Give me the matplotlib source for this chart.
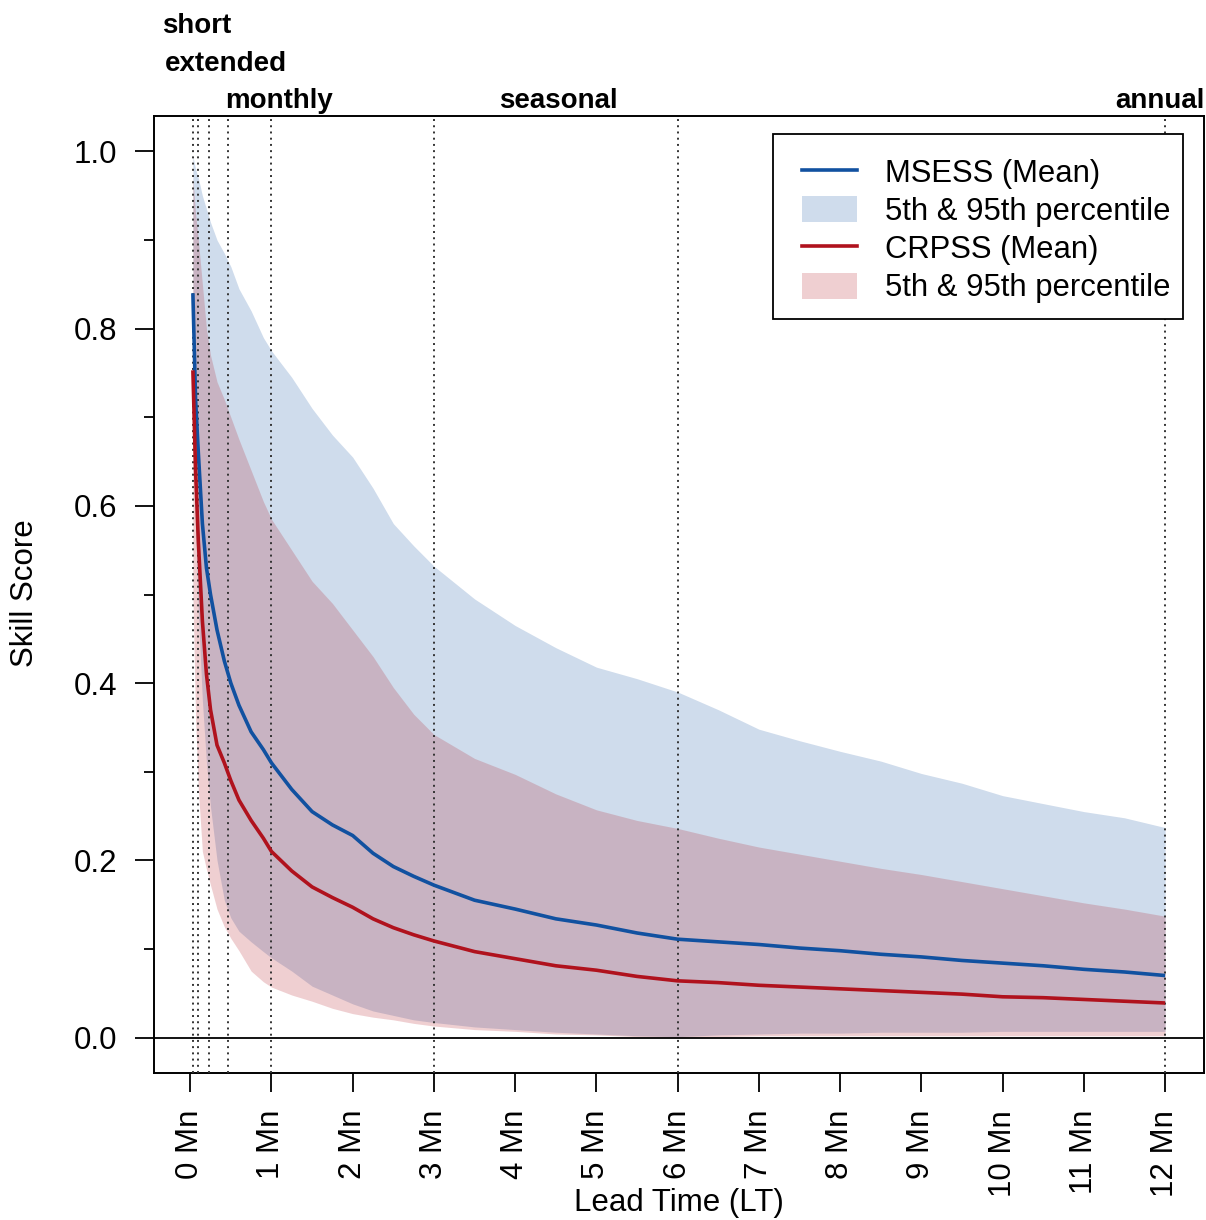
import matplotlib
matplotlib.use("Agg")
import matplotlib.pyplot as plt
from matplotlib.lines import Line2D
from matplotlib.patches import Patch, Rectangle
from matplotlib.transforms import blended_transform_factory

plt.rcParams['font.family'] = ['Liberation Sans', 'DejaVu Sans']

# ---------------- data (lead time in months) ----------------
lead_time = [0.033, 0.066, 0.1, 0.15, 0.2, 0.25, 0.33, 0.42, 0.5, 0.6, 0.75, 0.9,
             1.0, 1.25, 1.5, 1.75, 2.0, 2.25, 2.5, 2.75, 3.0, 3.5, 4.0, 4.5, 5.0,
             5.5, 6.0, 6.5, 7.0, 7.5, 8.0, 8.5, 9.0, 9.5, 10.0, 10.5, 11.0, 11.5, 12.0]

msess_mean = [0.84, 0.72, 0.66, 0.58, 0.53, 0.50, 0.46, 0.425, 0.40, 0.375, 0.345, 0.325,
              0.31, 0.28, 0.255, 0.24, 0.228, 0.208, 0.193, 0.182, 0.172, 0.155, 0.145, 0.134, 0.127,
              0.118, 0.111, 0.108, 0.105, 0.101, 0.098, 0.094, 0.091, 0.087, 0.084, 0.081, 0.077, 0.074, 0.070]
msess_p95 = [0.995, 0.98, 0.97, 0.95, 0.935, 0.92, 0.90, 0.885, 0.87, 0.845, 0.82, 0.79,
             0.775, 0.745, 0.71, 0.68, 0.655, 0.62, 0.58, 0.555, 0.532, 0.495, 0.465, 0.44, 0.418,
             0.405, 0.39, 0.37, 0.348, 0.335, 0.323, 0.312, 0.298, 0.287, 0.273, 0.264, 0.255, 0.248, 0.237]
msess_p05 = [0.72, 0.58, 0.48, 0.38, 0.31, 0.26, 0.20, 0.155, 0.135, 0.12, 0.108, 0.097,
             0.09, 0.075, 0.058, 0.048, 0.038, 0.03, 0.025, 0.02, 0.017, 0.012, 0.009, 0.006, 0.004,
             0.002, 0.001, 0.003, 0.004, 0.005, 0.005, 0.006, 0.006, 0.006, 0.007, 0.007, 0.007, 0.007, 0.007]

crpss_mean = [0.753, 0.64, 0.56, 0.47, 0.41, 0.37, 0.33, 0.31, 0.29, 0.268, 0.245, 0.225,
              0.21, 0.188, 0.17, 0.158, 0.147, 0.134, 0.124, 0.116, 0.109, 0.097, 0.089, 0.081, 0.076,
              0.069, 0.064, 0.062, 0.059, 0.057, 0.055, 0.053, 0.051, 0.049, 0.046, 0.045, 0.043, 0.041, 0.039]
crpss_p95 = [0.97, 0.93, 0.90, 0.85, 0.80, 0.77, 0.74, 0.72, 0.70, 0.675, 0.64, 0.605,
             0.585, 0.55, 0.515, 0.49, 0.46, 0.43, 0.395, 0.365, 0.342, 0.315, 0.297, 0.275, 0.257,
             0.245, 0.236, 0.225, 0.215, 0.207, 0.199, 0.191, 0.184, 0.176, 0.168, 0.16, 0.152, 0.145, 0.137]
crpss_p05 = [0.50, 0.36, 0.28, 0.21, 0.19, 0.172, 0.145, 0.125, 0.112, 0.098, 0.075, 0.063,
             0.057, 0.048, 0.041, 0.033, 0.027, 0.023, 0.02, 0.016, 0.013, 0.009, 0.007, 0.004, 0.003,
             0.001, 0.0, 0.001, 0.002, 0.002, 0.002, 0.002, 0.002, 0.002, 0.002, 0.002, 0.002, 0.002, 0.002]

# forecast-range boundaries (months): 1 d, 3 d, 7 d, 14 d, 1, 3, 6, 12 months
range_bounds = [1/30.42, 3/30.42, 7/30.42, 14/30.42, 1, 3, 6, 12]
range_labels = ["short", "extended", "monthly", "seasonal", "annual"]
range_label_x = [0.081, 0.44, 1.087, 4.527, 11.937]
range_label_row = [0, 1, 2, 2, 2]

x_ticks = list(range(0, 13))
x_tick_labels = [f"{m} Mn" for m in x_ticks]
y_ticks = [0.0, 0.2, 0.4, 0.6, 0.8, 1.0]
y_minor = [0.1, 0.3, 0.5, 0.7, 0.9]

BLUE = "#1151a0"
RED = "#b0121d"
ALPHA = 0.2

W, H = 1206, 1220
fig = plt.figure(figsize=(W / 100, H / 100), dpi=100)
ax = fig.add_axes([154 / W, 1 - 1073 / H, 1050 / W, 957 / H])

ax.fill_between(lead_time, msess_p05, msess_p95, color=BLUE, alpha=ALPHA, lw=0, zorder=1)
ax.fill_between(lead_time, crpss_p05, crpss_p95, color=RED, alpha=ALPHA, lw=0, zorder=2)

for xb in range_bounds:
    ax.axvline(xb, color="#333333", lw=1.4, linestyle=(0, (1.0, 2.2)), zorder=3)
ax.axhline(0, color="black", lw=1.3, zorder=3)

ax.plot(lead_time, msess_mean, color=BLUE, lw=2.6, zorder=4, solid_capstyle="butt")
ax.plot(lead_time, crpss_mean, color=RED, lw=2.6, zorder=5, solid_capstyle="butt")

ax.set_xlim(0.033 - 0.4787, 12.4787)
ax.set_ylim(-0.04, 1.04)

ax.set_xticks(x_ticks)
ax.set_xticklabels(x_tick_labels, rotation=90, fontsize=22.5)
ax.set_yticks(y_ticks)
ax.set_yticklabels([f"{v:.1f}" for v in y_ticks], fontsize=22.5)
ax.set_yticks(y_minor, minor=True)
ax.tick_params(axis="both", which="major", length=13.5, width=1.3, pad=13, color="black")
ax.tick_params(axis="y", which="minor", length=7, width=1.3)
for s in ax.spines.values():
    s.set_linewidth(1.4)
    s.set_color("black")

fig.text(25 / W, 1 - 593 / H, "Skill Score", rotation=90, ha="center", va="center", fontsize=22.5)
fig.text(679 / W, 1 - 1203 / H, "Lead Time (LT)", ha="center", va="center", fontsize=22.5)

tr = blended_transform_factory(ax.transData, fig.transFigure)
row_baseline = [33, 71, 108]
for lab, xl, r in zip(range_labels, range_label_x, range_label_row):
    ax.text(xl, 1 - row_baseline[r] / H, lab, transform=tr, ha="center", va="baseline",
            fontsize=20, fontweight="bold", clip_on=False)

# legend: frameless legend placed inside a hand-placed box (R-style)
box = Rectangle((773 / W, 1 - 319 / H), 410 / W, 185 / H, transform=fig.transFigure,
                facecolor="white", edgecolor="black", lw=1.3, zorder=6, clip_on=False)
ax.add_patch(box)
handles = [Line2D([], [], color=BLUE, lw=2.6),
           Patch(facecolor=BLUE, alpha=ALPHA, edgecolor="none"),
           Line2D([], [], color=RED, lw=2.6),
           Patch(facecolor=RED, alpha=ALPHA, edgecolor="none")]
labels = ["MSESS (Mean)", "5th & 95th percentile", "CRPSS (Mean)", "5th & 95th percentile"]
leg = ax.legend(handles, labels, loc="upper left", bbox_to_anchor=(802 / W, 1 - 158 / H),
                bbox_transform=fig.transFigure, borderaxespad=0, borderpad=0, fontsize=22.3,
                handlelength=1.77, handleheight=0.9, handletextpad=0.9, labelspacing=0.25,
                frameon=False)
leg.set_zorder(7)

fig.savefig("out.png", dpi=100)
